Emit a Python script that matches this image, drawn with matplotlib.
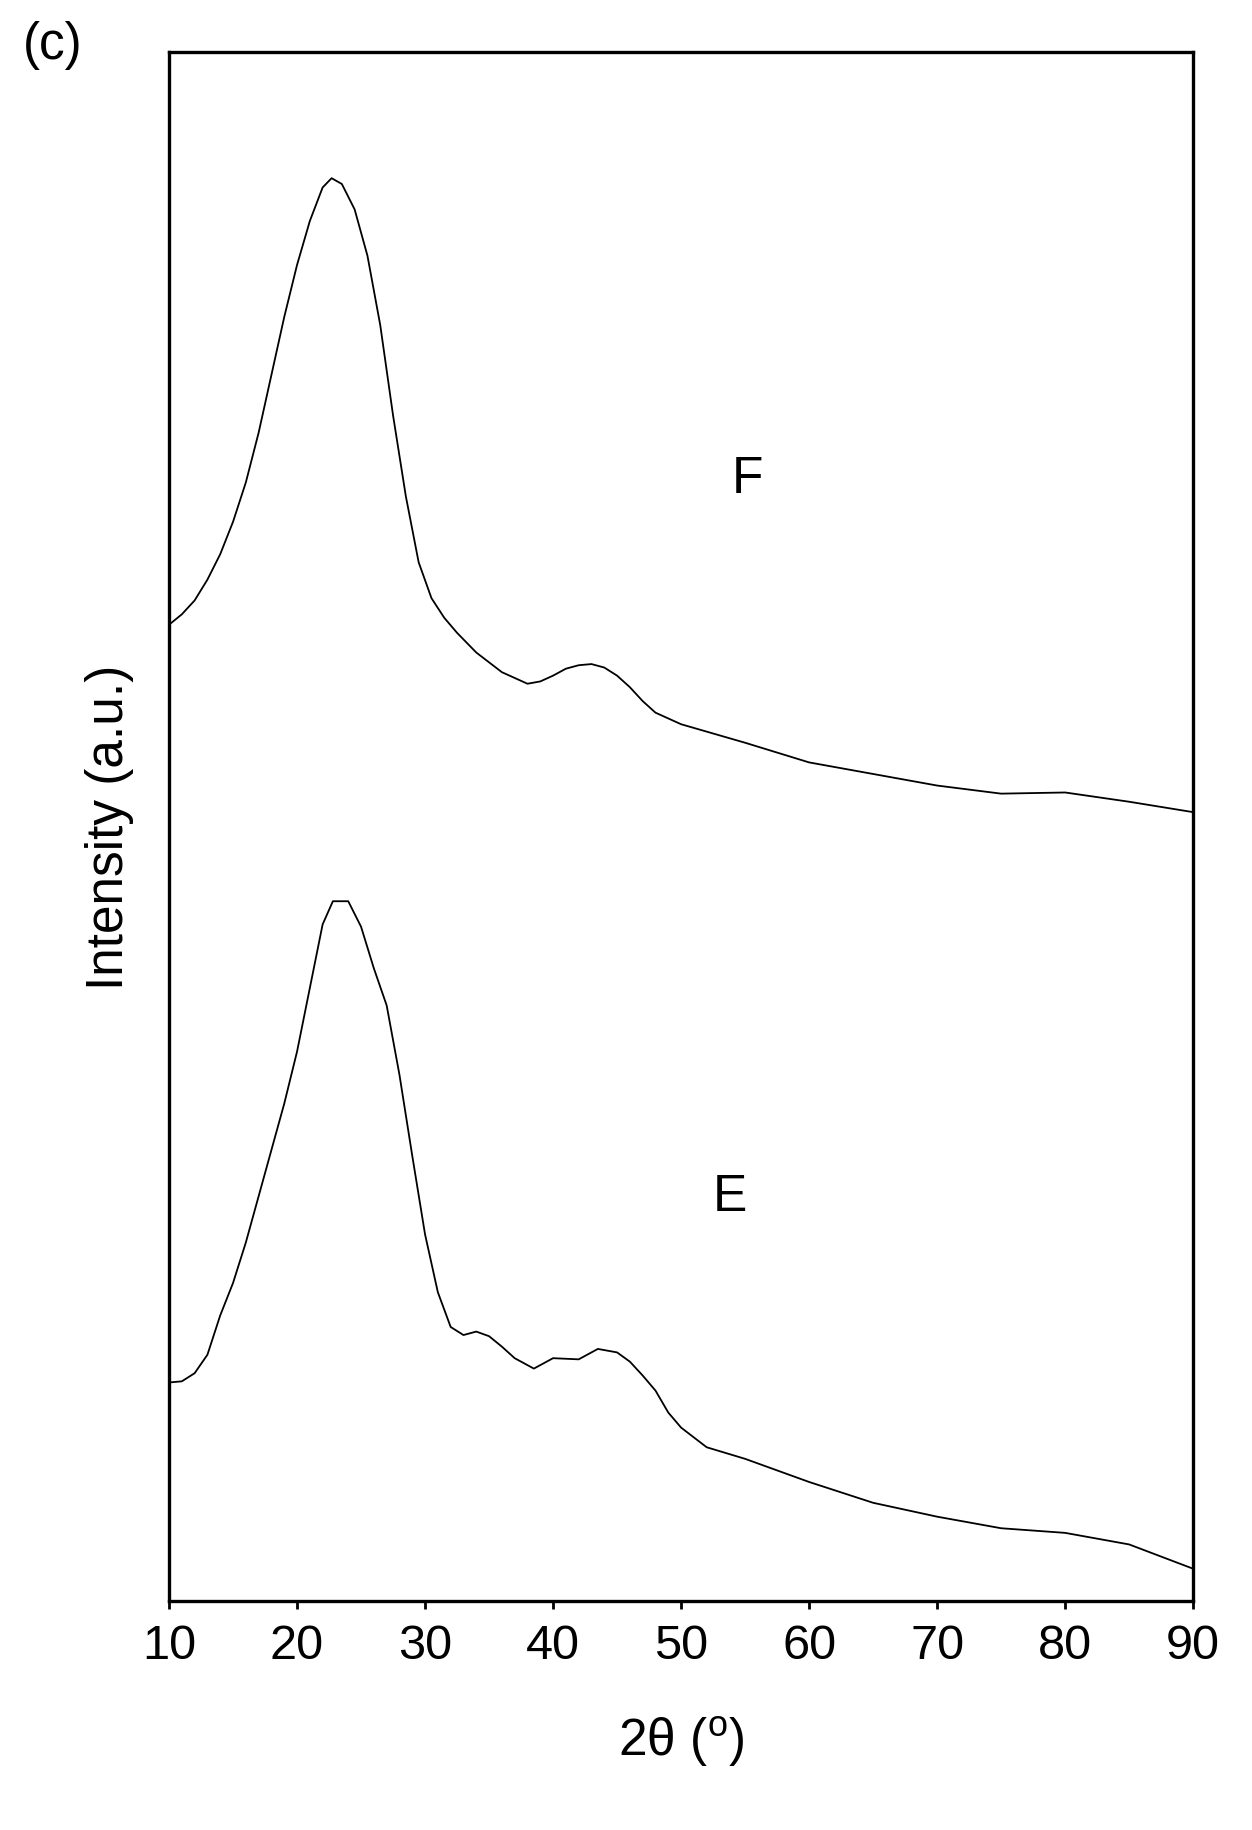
import numpy as np
import matplotlib
matplotlib.use("Agg")
import matplotlib.pyplot as plt
plt.rcParams['font.family'] = ['Liberation Sans', 'DejaVu Sans']

f_x = [10,11,12,13,14,15,16,17,18,19,20,21,22,22.7,23.5,24.5,25.5,26.5,27.5,28.5,29.5,30.5,31.5,32.5,34,36,38,39,40,41,42,43,44,45,46,47,48,50,55,60,65,70,75,80,85,90]
f_y = [541,532,520,502,480,452,418,375,325,275,230,192,163,155,160,182,222,282,360,430,487,518,535,548,565,582,592,590,585,579,576,575,578,585,595,607,617,627,643,660,670,680,687,686,694,703]
e_x = [10,11,12,13,14,15,16,17,18,19,20,21,22,22.8,24,25,26,27,28,29,30,31,32,33,34,35,36,37,38.5,40,42,43.5,45,46,47,48,49,50,52,55,60,65,70,75,80,85,90]
e_y = [1196,1195,1188,1172,1138,1110,1075,1035,995,955,910,855,800,780,780,802,838,870,930,1000,1068,1118,1148,1155,1152,1156,1165,1175,1184,1175,1176,1167,1170,1178,1190,1203,1222,1235,1252,1262,1282,1300,1312,1322,1326,1336,1357]
f_int = 1385 - np.array(f_y)
e_int = 1385 - np.array(e_y)

fig = plt.figure(figsize=(12.52, 18.31), dpi=100)
ax = fig.add_axes([0.135, 0.125, 0.818, 0.846])
ax.plot(f_x, f_int, color='black', lw=1.3)
ax.plot(e_x, e_int, color='black', lw=1.3)
ax.set_xlim(10, 90)
ax.set_ylim(0, 1339)
ax.set_xticks(range(10, 91, 10))
ax.set_yticks([])
ax.tick_params(axis='x', labelsize=35, direction='out', length=6, width=2, pad=10)
for s in ax.spines.values():
    s.set_linewidth(2.4)
ax.text(55.2, 970, 'F', fontsize=37, ha='center', va='center')
ax.text(53.8, 350, 'E', fontsize=37, ha='center', va='center')
ax.set_xlabel('2θ (' + r'$^\mathregular{o}$' + ')', fontsize=37, labelpad=32)
ax.set_ylabel('Intensity (a.u.)', fontsize=37, labelpad=25)
fig.text(0.042, 0.975, '(c)', fontsize=37, ha='center', va='center')
fig.savefig('out.png', dpi=100)
